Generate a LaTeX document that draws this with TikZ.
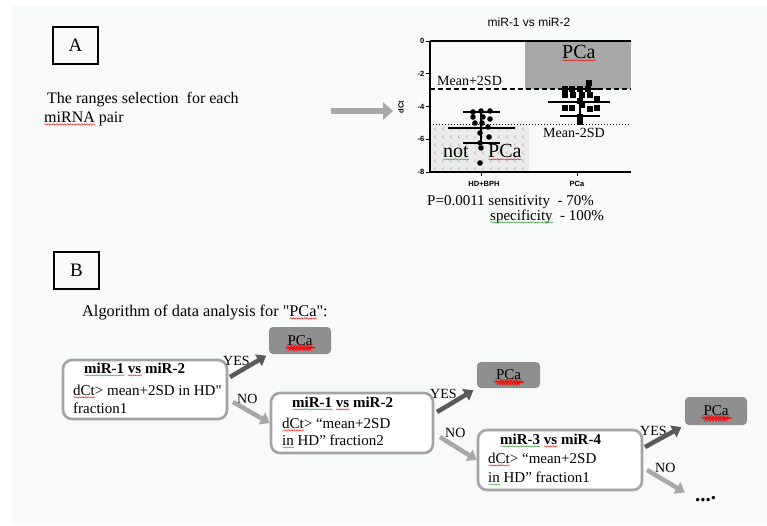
\documentclass[tikz,border=0pt]{standalone}
\usepackage{fontspec}
\setmainfont{Liberation Serif}[Ligatures=TeXOff]
\setsansfont{Liberation Sans}
\usetikzlibrary{arrows.meta,decorations.pathmorphing}
\definecolor{bg}{HTML}{F7FAF8}
\definecolor{yesc}{HTML}{5A5A5A}
\definecolor{noc}{HTML}{A8A8A8}
\definecolor{boxc}{HTML}{A4A4A4}
\definecolor{pcac}{HTML}{8F8F8F}
\definecolor{shadec}{HTML}{A8A8A8}
\definecolor{lightc}{HTML}{ECECEC}
\definecolor{chevc}{HTML}{BDBDBD}
\definecolor{sqgreen}{HTML}{2E9A2E}
\newdimen\wavw
\newcommand\wav[2]{\setbox0=\hbox{#2}\wavw=\wd0\leavevmode\rlap{#2}\makebox[\wavw][l]{\smash{\raisebox{-3.2pt}{\tikz\draw[#1,line width=0.45pt,decorate,decoration={snake,amplitude=0.6pt,segment length=2.8pt}] (0pt,0pt) -- (\wavw,0pt);}}}}
\begin{document}
\begin{tikzpicture}[x=1pt,y=-1pt,
  txt/.style={inner sep=0pt,anchor=base west,font=\fontsize{15}{18}\selectfont},
  bigtxt/.style={inner sep=0pt,anchor=base west,font=\fontsize{16}{19}\selectfont},
  lbl/.style={draw=black,line width=1.2pt,inner sep=0pt,font=\fontsize{19}{22}\selectfont},
  ticklab/.style={inner sep=0pt,font=\sffamily\bfseries\fontsize{7.5}{9}\selectfont},
  fbox/.style={draw=boxc,line width=2.6pt,rounded corners=9pt,fill=white,inner sep=0pt},
  pcabox/.style={fill=pcac,rounded corners=4pt,inner sep=0pt,font=\fontsize{15}{18}\selectfont},
  yesarr/.style={draw=yesc,line width=4.5pt,-{Triangle[length=9pt,width=13pt]}},
  noarr/.style={draw=noc,line width=4.5pt,-{Triangle[length=9pt,width=13pt]}},
  chev/.style={draw=chevc,line width=0.5pt}]
\useasboundingbox (0,0) rectangle (767,525);
\fill[white] (0,0) rectangle (767,525);
\fill[bg] (12,6) rectangle (767,525);

% ---------- Part A ----------
\node[lbl,minimum width=45,minimum height=37] (boxA) at (75.5,45.5) {A};
\node[bigtxt] (tA1) at (47,103) {The ranges selection\ \ for each};
\node[bigtxt] (tA2) at (44,122) {\wav{red}{miRNA} pair};
\coordinate (arrS) at (331,111);
\coordinate (arrE) at (393,111);
\draw[draw=shadec,line width=6pt,-{Triangle[length=10pt,width=17pt]}] (arrS) -- (arrE);

% chart
\node[inner sep=0pt,font=\sffamily\fontsize{12}{14}\selectfont] (title) at (529,22.5) {miR-1 vs miR-2};
\fill[lightc] (430,124) rectangle (529,172);
\foreach \xx in {434,442,...,522} \foreach \yy in {129,137,...,169}
  \draw[chev] (\xx+2.2,\yy-1.6) -- (\xx,\yy) -- (\xx+2.2,\yy+1.6);
\fill[shadec] (525,41) rectangle (631,89);
\draw[line width=1.2pt] (430,41) -- (631,41);
\draw[line width=1.3pt] (430,41) -- (430,172) -- (631,172);
\foreach \v/\l [count=\i] in {41/0,73.8/-2,106.5/-4,139.3/-6,172/-8} {
  \draw[line width=1pt] (426,\v) -- (430,\v);
  \node[ticklab,anchor=east] (ytick\i) at (424.5,\v) {\l};
}
\draw[line width=1pt] (481,172) -- (481,176);
\draw[line width=1pt] (577,172) -- (577,176);
\node[ticklab] (xl1) at (484,184) {HD+BPH};
\node[ticklab] (xl2) at (577,184) {PCa};
\node[ticklab,rotate=90] (ylab) at (401,107) {dCt};
\draw[line width=1.3pt,dash pattern=on 5pt off 3pt] (430,89) -- (631,89);
\draw[line width=1pt,dotted] (430,124) -- (631,124);
\node[inner sep=0pt,anchor=base west,font=\fontsize{14}{16}\selectfont] (mp) at (437,85) {Mean+2SD};
\node[inner sep=0pt,anchor=base west,font=\fontsize{14}{16}\selectfont] (mm) at (543,137) {Mean-2SD};
\node[inner sep=0pt,anchor=base west,font=\fontsize{20}{22}\selectfont] (pcaC) at (562,58) {\wav{red}{PCa}};
\node[inner sep=0pt,anchor=base west,font=\fontsize{20}{22}\selectfont] (notC) at (443,157) {\wav{sqgreen}{not}};
\node[inner sep=0pt,anchor=base west,font=\fontsize{20}{22}\selectfont] (pcaN) at (488,157) {\wav{red}{PCa}};
% HD+BPH data
\draw[line width=1.3pt] (481,112) -- (481,143);
\draw[line width=1.3pt] (463,112) -- (500,112);
\draw[line width=1.3pt] (448,128) -- (515,128);
\draw[line width=1.3pt] (463,143) -- (500,143);
\foreach \p in {(473,112),(481,111),(490,111),(473,117),(483,117),(490,119),(475,123),(482,123),(488,127),(480,133),(489,137),(480,143),(481,148),(480,163)}
  \fill \p circle (2.8);
% PCa data
\draw[line width=1.3pt] (580,89) -- (580,116);
\draw[line width=1.3pt] (560,89) -- (600,89);
\draw[line width=1.3pt] (548,102) -- (610,102);
\draw[line width=1.3pt] (560,116) -- (600,116);
\foreach \p in {(589,83),(565,89),(572,89),(580,89),(588,89),(565,95),(573,95),(582,95),(590,95),(580,101),(597,99),(565,108),(572,108),(582,105),(590,109),(597,108),(580,117),(580,122)}
  \fill \p ++(-3,-3) rectangle ++(6,6);
\node[inner sep=0pt,anchor=base west,font=\fontsize{15}{17}\selectfont] (pval) at (427,205) {P=0.0011 sensitivity\ \ -\ 70\%};
\node[inner sep=0pt,anchor=base west,font=\fontsize{15}{17}\selectfont] (spec) at (490,220) {\wav{sqgreen}{specificity}\ \ -\ 100\%};

% ---------- Part B ----------
\node[lbl,minimum width=45,minimum height=37] (boxB) at (76.5,270.5) {B};
\node[txt,font=\fontsize{16.3}{19}\selectfont] (algo) at (82,316) {Algorithm of data analysis for "\wav{red}{PCa}":};

\node[fbox,minimum width=164,minimum height=59] (b1) at (145,389.5) {};
\node[fbox,minimum width=162,minimum height=60] (b2) at (352,423) {};
\node[fbox,minimum width=164,minimum height=60] (b3) at (560,460) {};
\node[pcabox,minimum width=62,minimum height=27] (pca1) at (300,340.5) {\wav{red}{PCa}};
\node[pcabox,minimum width=63,minimum height=26] (pca2) at (508.5,375) {\wav{red}{PCa}};
\node[pcabox,minimum width=62,minimum height=28] (pca3) at (716,411) {\wav{red}{PCa}};

\node[txt,font=\bfseries\fontsize{15}{18}\selectfont] (b1t1) at (84,373) {\wav{sqgreen}{miR-1} \wav{red}{vs} miR-2};
\node[txt] (b1t2) at (73,395) {\wav{red}{dCt}> mean+2SD in HD"};
\node[txt] (b1t3) at (73,413) {fraction1};
\node[txt,font=\bfseries\fontsize{15}{18}\selectfont] (b2t1) at (292,407) {\wav{sqgreen}{miR-1} \wav{red}{vs} miR-2};
\node[txt] (b2t2) at (282,428) {\wav{red}{dCt}> “mean+2SD};
\node[txt] (b2t3) at (282,445) {\wav{sqgreen}{in} HD” fraction2};
\node[txt,font=\bfseries\fontsize{15}{18}\selectfont] (b3t1) at (500,444) {\wav{sqgreen}{miR-3} \wav{red}{vs} miR-4};
\node[txt] (b3t2) at (488,463) {\wav{red}{dCt}> “mean+2SD};
\node[txt] (b3t3) at (488,482) {\wav{sqgreen}{in} HD” fraction1};

\node[txt,font=\fontsize{14}{16}\selectfont] (yes1) at (223,365) {YES};
\node[txt,font=\fontsize{14}{16}\selectfont] (no1) at (237,403) {NO};
\node[txt,font=\fontsize{14}{16}\selectfont] (yes2) at (430,398) {YES};
\node[txt,font=\fontsize{14}{16}\selectfont] (no2) at (445,437) {NO};
\node[txt,font=\fontsize{14}{16}\selectfont] (yes3) at (640,435) {YES};
\node[txt,font=\fontsize{14}{16}\selectfont] (no3) at (655,472) {NO};
\node[inner sep=0pt,anchor=base west,font=\bfseries\fontsize{21}{22}\selectfont] (dots) at (695,501) {...\raisebox{2pt}{.}};

\coordinate (s1y) at (230,377);
\coordinate (s1n) at (233,402);
\coordinate (s2y) at (437,412);
\coordinate (s2n) at (440,437);
\coordinate (s3y) at (645,447);
\coordinate (s3n) at (647,470);
\draw[yesarr,shorten >=3pt] (s1y) -- (pca1.south west);
\draw[noarr] (s1n) -- (b2.west);
\draw[yesarr,shorten >=4pt] (s2y) -- (pca2.south west);
\draw[noarr] (s2n) -- (b3.west);
\draw[yesarr,shorten >=4pt] (s3y) -- (pca3.south west);
\draw[noarr,shorten >=12pt] (s3n) -- (dots.west);
\end{tikzpicture}
\end{document}
